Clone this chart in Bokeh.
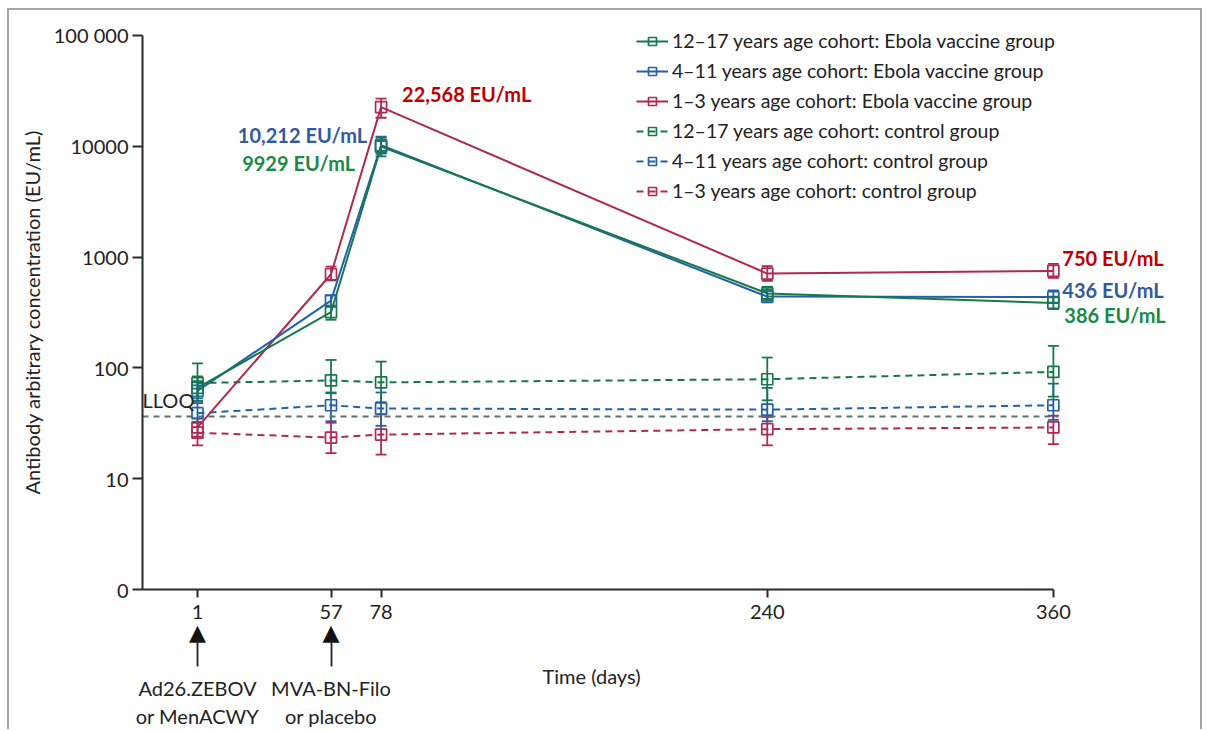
from bokeh.plotting import figure
from bokeh.models import (ColumnDataSource, Whisker, TeeHead, Label, Title, LinearAxis,
                          Legend, LegendItem, FixedTicker, Range1d)
from bokeh.embed import file_html
from bokeh.resources import INLINE

# ---------------- data ----------------
days = [1, 57, 78, 240, 360]
x_tick_labels = ["1", "57", "78", "240", "360"]
y_ticks = [1, 10, 100, 1000, 10000, 100000]
y_tick_labels = ["0", "10", "100", "1000", "10000", "100 000"]

dose_days = [1, 57]
dose_labels = ["Ad26.ZEBOV\nor MenACWY", "MVA-BN-Filo\nor placebo"]

# Ebola vaccine groups (GMC, 95% CI)
vac_12_17 = [66, 318, 9929, 470, 386]
vac_12_17_lo = [53, 272, 8100, 410, 340]
vac_12_17_hi = [84, 357, 11900, 540, 440]

vac_4_11 = [62, 405, 10212, 440, 436]
vac_4_11_lo = [50, 365, 8600, 390, 385]
vac_4_11_hi = [76, 450, 12200, 505, 500]

vac_1_3 = [29, 700, 22568, 710, 750]
vac_1_3_lo = [24, 615, 18100, 610, 650]
vac_1_3_hi = [35, 820, 26900, 830, 870]

# control groups
ctl_12_17 = [73, 77, 74, 79, 92]
ctl_12_17_lo = [50, 59, 49, 51, 55]
ctl_12_17_hi = [110, 118, 114, 124, 158]

ctl_4_11 = [39, 46, 43, 42, 46]
ctl_4_11_lo = [32, 33, 30, 33, 34]
ctl_4_11_hi = [48, 60, 60, 66, 72]

ctl_1_3 = [26, 23.5, 25, 28, 29]
ctl_1_3_lo = [20, 17, 16.5, 20, 20.5]
ctl_1_3_hi = [32, 32, 38, 36, 37]

lloq = 36.4

labels_vac = ["12\u201317 years age cohort: Ebola vaccine group",
              "4\u201311 years age cohort: Ebola vaccine group",
              "1\u20133 years age cohort: Ebola vaccine group"]
labels_ctl = ["12\u201317 years age cohort: control group",
              "4\u201311 years age cohort: control group",
              "1\u20133 years age cohort: control group"]

GREEN = "#16794b"
BLUE = "#2561a8"
RED = "#b02a50"
T_RED = "#c00000"
T_BLUE = "#33599f"
T_GREEN = "#1c8a47"
INK = "#222222"
FONT = "Lato"

# ---------------- figure ----------------
px_per_day = 2.384
x0 = 1 - 55 / px_per_day
x1 = 1 + (1185 - 197) / px_per_day
decade_px = 111.0
y1 = 10 ** ((590 - 25) / decade_px)

p = figure(width=1195, height=721, x_range=Range1d(x0, x1), y_range=Range1d(1, y1),
           y_axis_type="log", output_backend="svg", toolbar_location=None,
           min_border_left=133, min_border_right=19, min_border_top=15, min_border_bottom=141)
p.styles = {"margin-left": "7px", "margin-top": "8px",
            "border-top": "2px solid #a5a5a5", "border-left": "2px solid #a5a5a5",
            "border-right": "2px solid #a5a5a5"}
p.grid.visible = False
p.outline_line_color = None
p.background_fill_color = "white"
p.border_fill_color = "white"

for ax in (p.xaxis[0], p.yaxis[0]):
    ax.axis_line_color = "#2b2b2b"
    ax.axis_line_width = 2
    ax.major_tick_line_color = "#2b2b2b"
    ax.major_tick_line_width = 2
    ax.minor_tick_line_color = None
    ax.minor_tick_out = 0
    ax.minor_tick_in = 0
    ax.major_label_text_font = FONT
    ax.major_label_text_font_size = "20px"
    ax.major_label_text_color = INK

p.xaxis.ticker = FixedTicker(ticks=days)
p.xaxis.major_label_overrides = {d: s for d, s in zip(days, x_tick_labels)}
p.xaxis.bounds = (x0, days[-1])
p.xaxis.major_tick_out = 8
p.xaxis.major_tick_in = 0
p.xaxis.major_label_standoff = 7

p.yaxis.ticker = FixedTicker(ticks=y_ticks)
p.yaxis.major_label_overrides = {t: s for t, s in zip(y_ticks, y_tick_labels)}
p.yaxis.bounds = (y_ticks[0], y_ticks[-1])
p.yaxis.major_tick_out = 10
p.yaxis.major_tick_in = 0
p.yaxis.major_label_standoff = 4

# arrow heads (labels of a tick-less axis)
head_ax = LinearAxis(ticker=FixedTicker(ticks=dose_days),
                     major_label_overrides={d: "\u25B2" for d in dose_days},
                     axis_line_color=None, major_tick_line_color=None, minor_tick_line_color=None,
                     major_tick_in=0, major_tick_out=0, minor_tick_in=0, minor_tick_out=0,
                     major_label_standoff=-2, major_label_text_font="DejaVu Sans",
                     major_label_text_font_size="22px", major_label_text_color="#111111")
p.add_layout(head_ax, "below")

# axis titles
p.add_layout(Title(text="Antibody arbitrary concentration (EU/mL)", align="left", offset=95,
                   text_font=FONT, text_font_size="20px", text_font_style="normal",
                   text_color=INK, standoff=14), "left")
p.add_layout(Title(text="Time (days)", align="left", offset=400, text_font=FONT,
                   text_font_size="20px", text_font_style="normal", text_color=INK,
                   standoff=28), "below")

# arrow shafts (ticks of a second axis) and dose labels
dose_ax = LinearAxis(ticker=FixedTicker(ticks=dose_days),
                     major_label_overrides={d: s for d, s in zip(dose_days, dose_labels)},
                     axis_line_color=None, major_tick_in=61, major_tick_out=-35,
                     minor_tick_in=0, minor_tick_out=0,
                     major_tick_line_width=1.8, major_tick_line_color=INK,
                     minor_tick_line_color=None, major_label_standoff=-26,
                     major_label_text_font=FONT, major_label_text_font_size="20px",
                     major_label_text_color=INK)
p.add_layout(dose_ax, "below")

# LLOQ line
p.segment(x0=[x0], y0=[lloq], x1=[days[-1] + 2], y1=[lloq], line_color="#5f7070",
          line_width=2, line_dash="6 5")

def draw(vals, lo, hi, color, dash):
    src = ColumnDataSource(dict(x=days, y=vals, lo=lo, hi=hi))
    w = Whisker(source=src, base="x", upper="hi", lower="lo", line_color=color, line_width=1.8,
                upper_head=TeeHead(size=11, line_color=color, line_width=1.8),
                lower_head=TeeHead(size=11, line_color=color, line_width=1.8))
    p.add_layout(w)
    ln = p.line("x", "y", source=src, line_color=color, line_width=2, line_dash=dash)
    sc = p.scatter("x", "y", source=src, marker="square", size=11, fill_color=None,
                   line_color=color, line_width=1.7)
    return [ln, sc]

r_c1 = draw(ctl_1_3, ctl_1_3_lo, ctl_1_3_hi, RED, "7 5")
r_c4 = draw(ctl_4_11, ctl_4_11_lo, ctl_4_11_hi, BLUE, "7 5")
r_c12 = draw(ctl_12_17, ctl_12_17_lo, ctl_12_17_hi, GREEN, "7 5")
r_v1 = draw(vac_1_3, vac_1_3_lo, vac_1_3_hi, RED, "solid")
r_v4 = draw(vac_4_11, vac_4_11_lo, vac_4_11_hi, BLUE, "solid")
r_v12 = draw(vac_12_17, vac_12_17_lo, vac_12_17_hi, GREEN, "solid")

legend = Legend(items=[
    LegendItem(label=labels_vac[0], renderers=r_v12),
    LegendItem(label=labels_vac[1], renderers=r_v4),
    LegendItem(label=labels_vac[2], renderers=r_v1),
    LegendItem(label=labels_ctl[0], renderers=r_c12),
    LegendItem(label=labels_ctl[1], renderers=r_c4),
    LegendItem(label=labels_ctl[2], renderers=r_c1),
], location=(494, 387))
legend.label_text_font = FONT
legend.label_text_font_size = "19.5px"
legend.label_text_color = INK
legend.glyph_width = 32
legend.glyph_height = 20
legend.label_height = 20
legend.spacing = 7
legend.padding = 5
legend.margin = 0
legend.label_standoff = 4
legend.border_line_color = None
legend.background_fill_alpha = 0
p.add_layout(legend)

# value annotations
def val_label(txt, x, y, color, dx, dy, align):
    p.add_layout(Label(x=x, y=y, text=txt, x_offset=dx, y_offset=dy, text_align=align,
                       text_baseline="middle", text_color=color, text_font=FONT,
                       text_font_size="20px", text_font_style="bold"))

val_label("22,568 EU/mL", days[2], vac_1_3[2], T_RED, 21, 13, "left")
val_label("10,212 EU/mL", days[2], vac_4_11[2], T_BLUE, -14, 10, "right")
val_label("9929 EU/mL", days[2], vac_12_17[2], T_GREEN, -26, -16, "right")
val_label("750 EU/mL", days[4], vac_1_3[4], T_RED, 9, 13, "left")
val_label("436 EU/mL", days[4], vac_4_11[4], T_BLUE, 9, 7, "left")
val_label("386 EU/mL", days[4], vac_12_17[4], T_GREEN, 11, -12, "left")

p.add_layout(Label(x=x0, y=lloq, text="LLOQ", x_offset=0, y_offset=17, text_align="left",
                   text_baseline="middle", text_color=INK, text_font=FONT,
                   text_font_size="20px"))

open("out.html", "w").write(file_html(p, INLINE))
